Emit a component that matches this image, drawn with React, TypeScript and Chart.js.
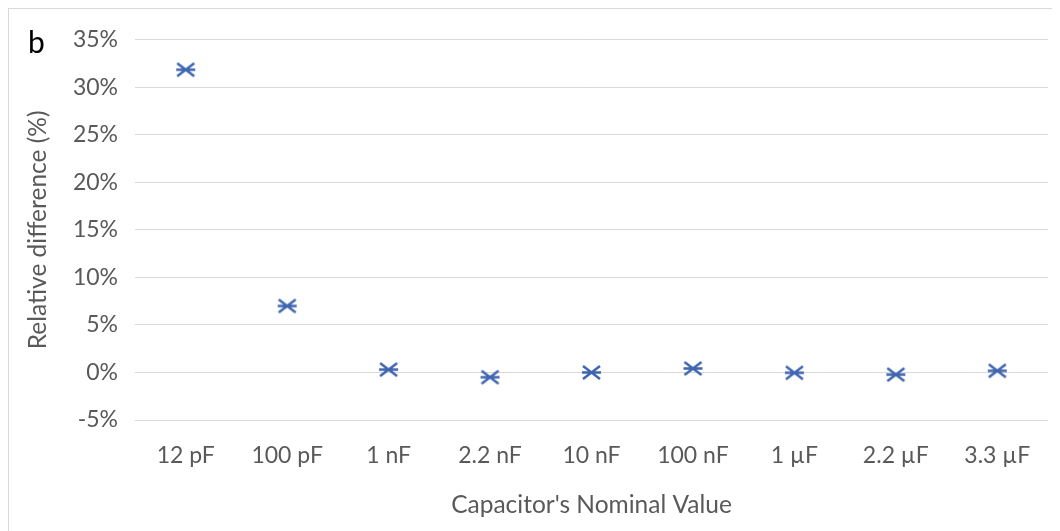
import React, { useEffect, useRef } from "react";
import { Chart, registerables } from "chart.js";

Chart.register(...registerables);

const categories = ["12 pF", "100 pF", "1 nF", "2.2 nF", "10 nF", "100 nF", "1 µF", "2.2 µF", "3.3 µF"];
const relativeDifference = [31.85, 7.0, 0.3, -0.5, 0.0, 0.42, -0.03, -0.22, 0.18];
const yTicks = [-5, 0, 5, 10, 15, 20, 25, 30, 35];

const FONT = "Lato, 'Open Sans', sans-serif";
const TEXT = "#595959";
const BLUE = "#4166b0";

function makeMarker(): HTMLCanvasElement {
  const c = document.createElement("canvas");
  const w = 21, h = 17;
  c.width = w; c.height = h;
  const ctx = c.getContext("2d")!;
  ctx.strokeStyle = BLUE;
  ctx.lineWidth = 2.5;
  ctx.lineCap = "butt";
  ctx.beginPath();
  ctx.moveTo(2, 2); ctx.lineTo(19, 15);
  ctx.moveTo(19, 2); ctx.lineTo(2, 15);
  ctx.moveTo(1, 8.5); ctx.lineTo(20, 8.5);
  ctx.stroke();
  return c;
}

const labelPlugin = {
  id: "panelLabel",
  afterDraw(chart: any) {
    const ctx = chart.ctx;
    ctx.save();
    ctx.fillStyle = "#000";
    ctx.font = `30px ${FONT}`;
    ctx.textBaseline = "alphabetic";
    ctx.textAlign = "left";
    ctx.fillText("b", 19, 44);
    ctx.restore();
  },
};

export default function App() {
  const ref = useRef<HTMLCanvasElement>(null);
  useEffect(() => {
    const marker = makeMarker();
    const chart = new Chart(ref.current!, {
      type: "line",
      data: {
        labels: categories,
        datasets: [
          {
            data: relativeDifference,
            showLine: false,
            pointStyle: marker as any,
            pointRadius: 9,
            borderColor: BLUE,
            backgroundColor: BLUE,
          },
        ],
      },
      options: {
        animation: false,
        responsive: false,
        layout: { padding: { top: 30, right: 12, left: 0, bottom: 0 } },
        plugins: { legend: { display: false }, tooltip: { enabled: false } },
        scales: {
          x: {
            offset: true,
            grid: { display: false, drawTicks: false, offset: true },
            border: { display: false },
            ticks: { color: TEXT, font: { family: FONT, size: 23 }, padding: 22, maxRotation: 0, autoSkip: false },
            title: {
              display: true,
              text: "Capacitor's Nominal Value",
              color: TEXT,
              font: { family: FONT, size: 24.5 },
              padding: { top: 0, bottom: 11 },
            },
            afterFit: (s: any) => { s.height = 111; },
          },
          y: {
            min: -5,
            max: 35,
            afterBuildTicks: (s: any) => { s.ticks = yTicks.map((v) => ({ value: v })); },
            grid: { color: "#d9d9d9", lineWidth: 1, drawTicks: false },
            border: { display: false },
            ticks: {
              color: TEXT,
              font: { family: FONT, size: 23 },
              padding: 17,
              callback: (v: any) => `${v}%`,
            },
            title: {
              display: true,
              text: "Relative difference (%)",
              color: TEXT,
              font: { family: FONT, size: 24.5 },
              padding: { top: 14, bottom: 0 },
            },
            afterFit: (s: any) => { s.width = 126; },
          },
        },
      },
      plugins: [labelPlugin],
    });
    return () => chart.destroy();
  }, []);
  return (
    <div style={{ width: 1060, height: 540, borderLeft: "1px solid #d9d9d9", borderTop: "1px solid #d9d9d9", boxSizing: "border-box" }}>
      <canvas ref={ref} width={1051} height={522} style={{ display: "block" }} />
    </div>
  );
}
